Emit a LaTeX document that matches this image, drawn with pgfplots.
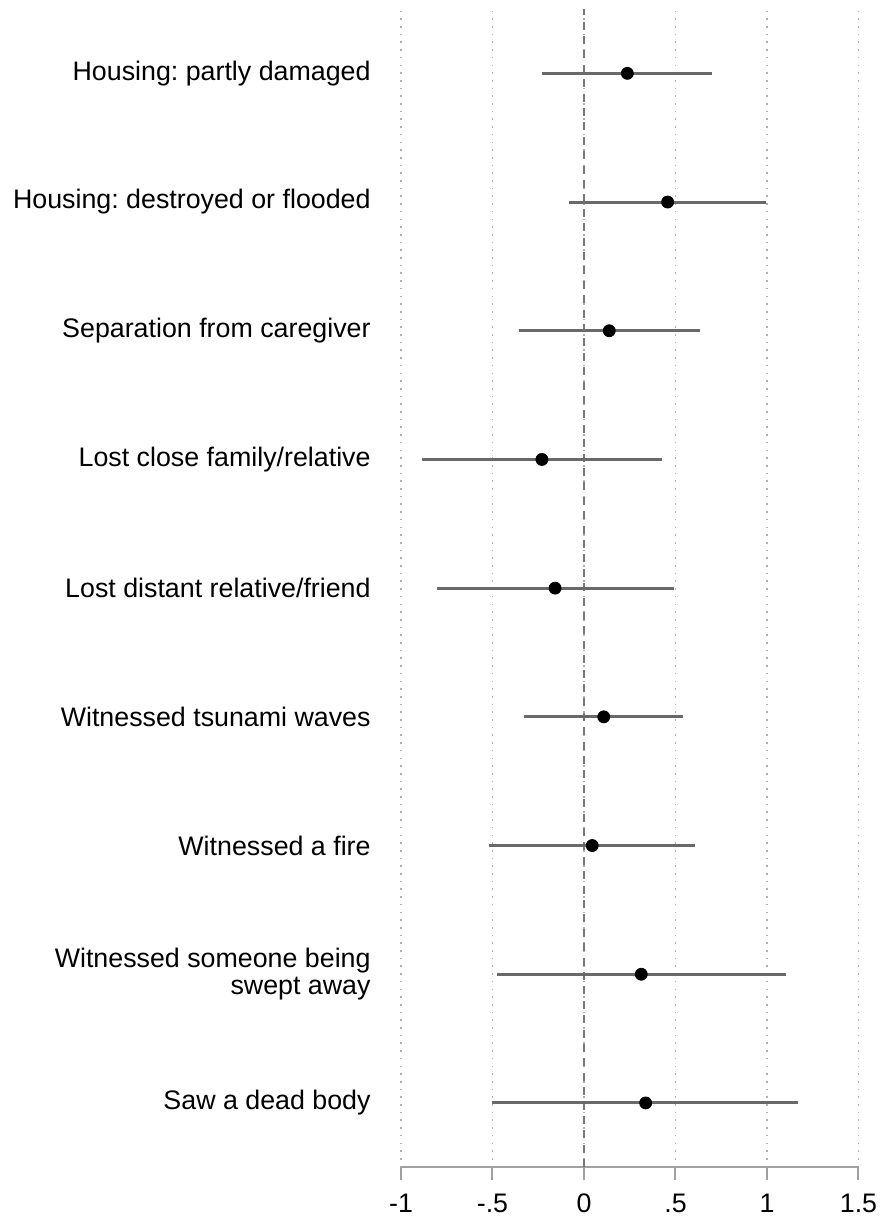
\documentclass[border=0pt]{standalone}
\usepackage{fontspec}
\setmainfont{Liberation Sans}
\usepackage{pgfplots}
\usepackage{pgfplotstable}
\pgfplotsset{compat=1.18}
\frenchspacing
\definecolor{cigray}{RGB}{105,105,105}
\definecolor{axgray}{RGB}{160,160,160}
\definecolor{gridgray}{RGB}{175,175,175}
\definecolor{zerogray}{RGB}{120,120,120}
\pgfplotstableread{
row est lo hi
9 0.237 -0.228 0.701
8 0.457 -0.080 0.993
7 0.138 -0.355 0.636
6 -0.230 -0.887 0.425
5 -0.158 -0.805 0.490
4 0.108 -0.326 0.541
3 0.045 -0.519 0.608
2 0.313 -0.477 1.104
1 0.337 -0.501 1.171
}\coefs
\begin{document}
\begin{tikzpicture}
\path[use as bounding box] (-200.5pt,-24.35pt) rectangle (240.5pt,583.65pt);
\begin{axis}[
  at={(0pt,0pt)}, anchor=south west,
  scale only axis, width=228.75pt, height=579.15pt,
  xmin=-1, xmax=1.5, ymin=0.5, ymax=9.5,
  axis x line*=bottom, axis y line*=left,
  y axis line style={draw=none},
  x axis line style={axgray, line width=1pt},
  xtick={-1,-0.5,0,0.5,1,1.5},
  xticklabels={-1,-.5,0,.5,1,1.5},
  xtick align=outside, xtick pos=lower,
  major tick length=6.5pt,
  xtick style={axgray, line width=1pt},
  ytick={1,...,9},
  yticklabels={Saw a dead body, Witnessed someone being\\swept away, Witnessed a fire, Witnessed tsunami waves, Lost distant relative/friend, Lost close family/relative, Separation from caregiver, Housing: destroyed or flooded, Housing: partly damaged},
  ytick style={draw=none},
  yticklabel style={inner sep=0pt, xshift=-15pt, align=right, font=\fontsize{13.4}{13.2}\selectfont},
  xticklabel style={inner sep=0pt, anchor=north, text height=9.8pt, text depth=0pt, yshift=-6.2pt, font=\fontsize{13.4}{15}\selectfont},
  xmajorgrids,
  major grid style={gridgray, line width=0.7pt, dash pattern=on 0.8pt off 3.05pt},
  clip=false,
]
\addplot[zerogray, line width=1.4pt, dash pattern=on 4pt off 3.2pt] coordinates {(0,0.5) (0,9.5)};
\addplot[only marks, mark=*, mark size=3pt, black,
  error bars/.cd, x dir=both, x explicit, error mark=none,
  error bar style={cigray, line width=1.5pt}]
  table[x=est, y=row, x error plus expr=\thisrow{hi}-\thisrow{est}, x error minus expr=\thisrow{est}-\thisrow{lo}] {\coefs};
\end{axis}
\end{tikzpicture}
\end{document}
